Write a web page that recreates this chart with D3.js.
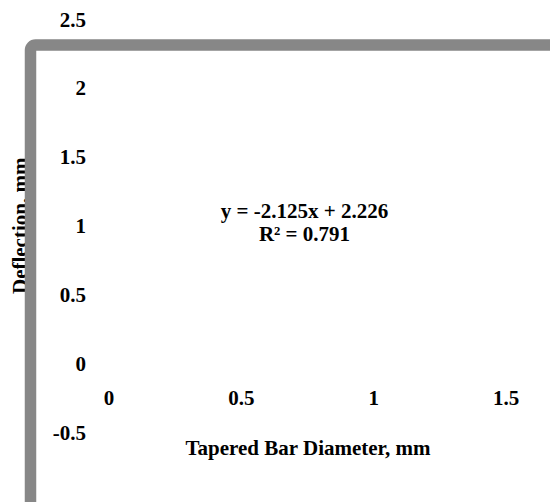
<!DOCTYPE html>
<html>
<head>
<meta charset="utf-8">
<script src="https://cdn.jsdelivr.net/npm/d3@7"></script>
<style>
  body { margin: 0; background: #fff; }
  text { font-family: "Liberation Serif", "Times New Roman", serif; font-weight: bold; fill: #000; }
</style>
</head>
<body>
<script>
// tick values
const yTicks = [-0.5, 0, 0.5, 1, 1.5, 2, 2.5];
const xTicks = [0, 0.5, 1, 1.5];

// trendline box text
const slope = -2.125;
const intercept = 2.226;
const rSquared = 0.791;

const xTitle = "Tapered Bar Diameter, mm";
const yTitle = "Deflection, mm";

const fontSize = "21px";
const tickFormat = d => String(d); // plain hyphen, like the original

const chart = () => {
  const width = 550;
  const height = 502;

  const svg = d3.select("body").append("svg")
      .attr("width", width)
      .attr("height", height);

  const x = d3.scaleLinear()
      .domain([0, 1.5])
      .range([108.5, 505.5]);

  const y = d3.scaleLinear()
      .domain([-0.5, 2.5])
      .range([432.3, 19.3]);

  // y title sits under the frame (it gets clipped by it in the original)
  svg.append("text")
      .attr("transform", `translate(27, ${y(1)}) rotate(-90)`)
      .attr("text-anchor", "middle")
      .attr("font-size", fontSize)
      .text(yTitle);

  // thick grey frame running off the page
  svg.append("rect")
      .attr("x", 30.5)
      .attr("y", 45)
      .attr("width", 700)
      .attr("height", 700)
      .attr("rx", 5)
      .attr("fill", "none")
      .attr("stroke", "#878787")
      .attr("stroke-width", 11.5);

  const yAxis = svg.append("g")
      .attr("transform", "translate(86, 0)")
      .call(d3.axisLeft(y).tickValues(yTicks).tickSize(0).tickPadding(0).tickFormat(tickFormat));
  yAxis.select(".domain").remove();
  yAxis.selectAll("text")
      .attr("font-size", fontSize);

  const xAxis = svg.append("g")
      .attr("transform", "translate(0, 390)")
      .call(d3.axisBottom(x).tickValues(xTicks).tickSize(0).tickPadding(0).tickFormat(tickFormat));
  xAxis.select(".domain").remove();
  xAxis.selectAll("text")
      .attr("font-size", fontSize);

  svg.append("text")
      .attr("x", 308)
      .attr("y", 455)
      .attr("text-anchor", "middle")
      .attr("font-size", fontSize)
      .text(xTitle);

  const eq = svg.append("text")
      .attr("text-anchor", "middle")
      .attr("font-size", fontSize);
  eq.append("tspan")
      .attr("x", 304.5)
      .attr("y", 218)
      .text(`y = ${slope}x + ${intercept}`);
  eq.append("tspan")
      .attr("x", 304.5)
      .attr("y", 241)
      .text(`R² = ${rSquared}`);

  return svg.node();
};

chart();
</script>
</body>
</html>
